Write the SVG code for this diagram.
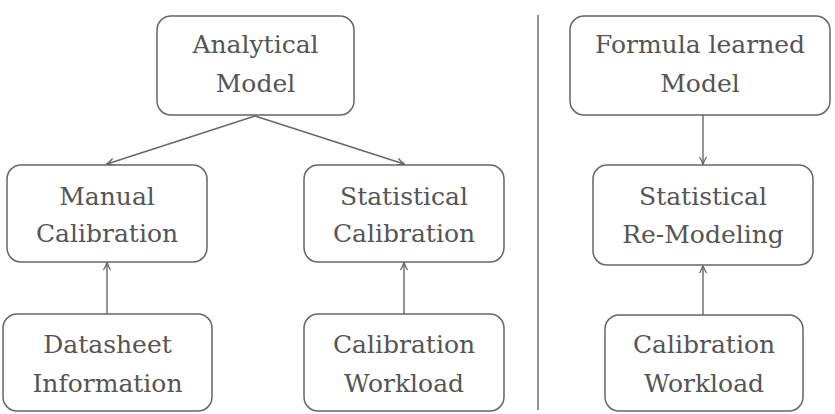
<svg xmlns="http://www.w3.org/2000/svg" width="835" height="414" viewBox="0 0 835 414">
<style>
.box{fill:#fff;stroke:#666;stroke-width:1.5}
.t{font-family:"DejaVu Serif","Liberation Serif",serif;font-size:25px;fill:#555;text-anchor:middle}
.c{stroke:#666;stroke-width:1.4;fill:none}
</style>
<defs>
<marker id="ah" viewBox="0 0 10 10" refX="9" refY="5" markerWidth="10" markerHeight="10" markerUnits="userSpaceOnUse" orient="auto">
<path d="M2,1.5 Q6,4 9.5,5 Q6,6 2,8.5" fill="none" stroke="#666" stroke-width="1.3"/>
</marker>
</defs>
<rect x="0" y="0" width="835" height="414" fill="#fff"/>
<g id="connectors">
<line class="c" x1="255" y1="116" x2="107" y2="164" marker-end="url(#ah)"/>
<line class="c" x1="255" y1="116" x2="404" y2="164" marker-end="url(#ah)"/>
<line class="c" x1="107" y1="314" x2="107" y2="263" marker-end="url(#ah)"/>
<line class="c" x1="404" y1="314" x2="404" y2="263" marker-end="url(#ah)"/>
<line class="c" x1="703" y1="115" x2="703" y2="164" marker-end="url(#ah)"/>
<line class="c" x1="703" y1="315" x2="703" y2="266" marker-end="url(#ah)"/>
<line class="c" x1="538" y1="15" x2="538" y2="410"/>
</g>
<g id="analytical">
<rect class="box" x="157" y="16" width="197" height="99" rx="14"/>
<text class="t" x="255.5" y="53">Analytical</text>
<text class="t" x="255.5" y="92">Model</text>
</g>
<g id="manual">
<rect class="box" x="7" y="165" width="200" height="97" rx="14"/>
<text class="t" x="107" y="205">Manual</text>
<text class="t" x="107" y="242">Calibration</text>
</g>
<g id="statcal">
<rect class="box" x="304" y="165" width="200" height="97" rx="14"/>
<text class="t" x="404" y="205">Statistical</text>
<text class="t" x="404" y="242">Calibration</text>
</g>
<g id="datasheet">
<rect class="box" x="3" y="314" width="209" height="97" rx="14"/>
<text class="t" x="107.5" y="353">Datasheet</text>
<text class="t" x="107.5" y="392">Information</text>
</g>
<g id="calwork1">
<rect class="box" x="304" y="314" width="200" height="97" rx="14"/>
<text class="t" x="404" y="353">Calibration</text>
<text class="t" x="404" y="392">Workload</text>
</g>
<g id="formula">
<rect class="box" x="570" y="16" width="260" height="99" rx="14"/>
<text class="t" x="700" y="53">Formula learned</text>
<text class="t" x="700" y="92">Model</text>
</g>
<g id="remodel">
<rect class="box" x="593" y="165" width="220" height="100" rx="14"/>
<text class="t" x="703" y="205">Statistical</text>
<text class="t" x="703" y="243">Re-Modeling</text>
</g>
<g id="calwork2">
<rect class="box" x="605" y="315" width="198" height="96" rx="14"/>
<text class="t" x="704" y="353">Calibration</text>
<text class="t" x="704" y="392">Workload</text>
</g>
</svg>
